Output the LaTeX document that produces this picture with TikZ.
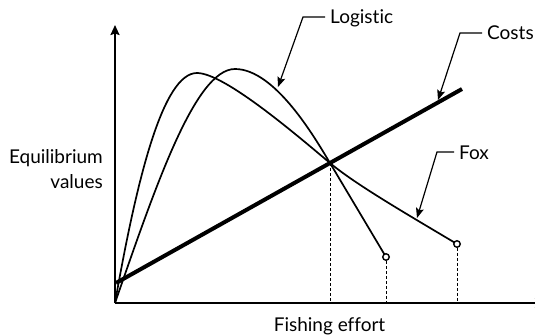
\documentclass[tikz,border=0pt]{standalone}
\usepackage{fontspec}
\setmainfont{Lato}[Ligatures=NoCommon]
\usetikzlibrary{arrows.meta}
\begin{document}
\begin{tikzpicture}[x=1pt, y=1pt,
    texto/.style={inner sep=0pt, font=\fontsize{19}{25}\selectfont},
    etiqueta/.style={texto, anchor=west, inner xsep=5pt, text height=14pt, text depth=0pt},
    guia/.style={line width=1.2pt, -{Stealth[length=10pt, width=8pt, inset=2pt]}},
    curva/.style={line width=1.7pt},
    discontinua/.style={line width=1pt, dash pattern=on 3pt off 2pt},
    extremo/.style={circle, draw, fill=white, line width=1.4pt, inner sep=0pt, minimum size=6.5pt}]
    \useasboundingbox (-115, -32) rectangle (420, 303);

    % Ejes
    \coordinate (O) at (0, 0);
    \coordinate (xmax) at (430, 0);
    \coordinate (ymax) at (0, 278);
    \draw[line width=2pt, -{Stealth[length=10pt, width=9pt, inset=1.5pt]}] (O) -- (ymax);
    \draw[line width=2pt, -{Stealth[length=10pt, width=9pt, inset=1.5pt]}] (O) -- (xmax);
    \node[texto, anchor=base] (esfuerzo) at (214.5, -28) {Fishing effort};
    \node[texto, anchor=east, align=right] (equilibrio) at (-12, 134) {Equilibrium\\values};

    % Curvas de rendimiento
    \coordinate (cruce) at (215, 140);
    \coordinate (finlogc) at (271, 46);
    \coordinate (finfoxc) at (342, 59);
    \draw[curva] (O) .. controls (40, 115) and (80, 234) .. (120, 234)
        .. controls (160, 234) and (200, 165) .. (cruce) -- (finlogc);
    \draw[curva] (O) .. controls (22, 125) and (48, 230) .. (82, 230)
        .. controls (110, 230) and (185, 165) .. (cruce)
        .. controls (240, 119) and (290, 90) .. (finfoxc);

    % Costes
    \coordinate (c0) at (1, 20);
    \coordinate (c1) at (347, 214);
    \draw[line width=4pt] (c0) -- (c1);

    % Puntos finales y proyecciones
    \node[extremo] (finlog) at (finlogc) {};
    \node[extremo] (finfox) at (finfoxc) {};
    \draw[discontinua] (cruce) -- (cruce |- O);
    \draw[discontinua] (finlog.south) -- (finlog |- O);
    \draw[discontinua] (finfox.south) -- (finfox |- O);

    % Etiquetas
    \node[etiqueta] (logistic) at (210, 286) {Logistic};
    \node[etiqueta] (costs) at (367, 270) {Costs};
    \node[etiqueta] (fox) at (339, 151) {Fox};
    \coordinate (logcodo) at (188, 286);
    \coordinate (logpunta) at (163, 216);
    \coordinate (costcodo) at (345, 270);
    \coordinate (costpunta) at (323, 203);
    \coordinate (foxcodo) at (322, 151);
    \coordinate (foxpunta) at (302, 85);
    \draw[guia] (logistic.west) -- (logcodo) -- (logpunta);
    \draw[guia] (costs.west) -- (costcodo) -- (costpunta);
    \draw[guia] (fox.west) -- (foxcodo) -- (foxpunta);
\end{tikzpicture}
\end{document}
